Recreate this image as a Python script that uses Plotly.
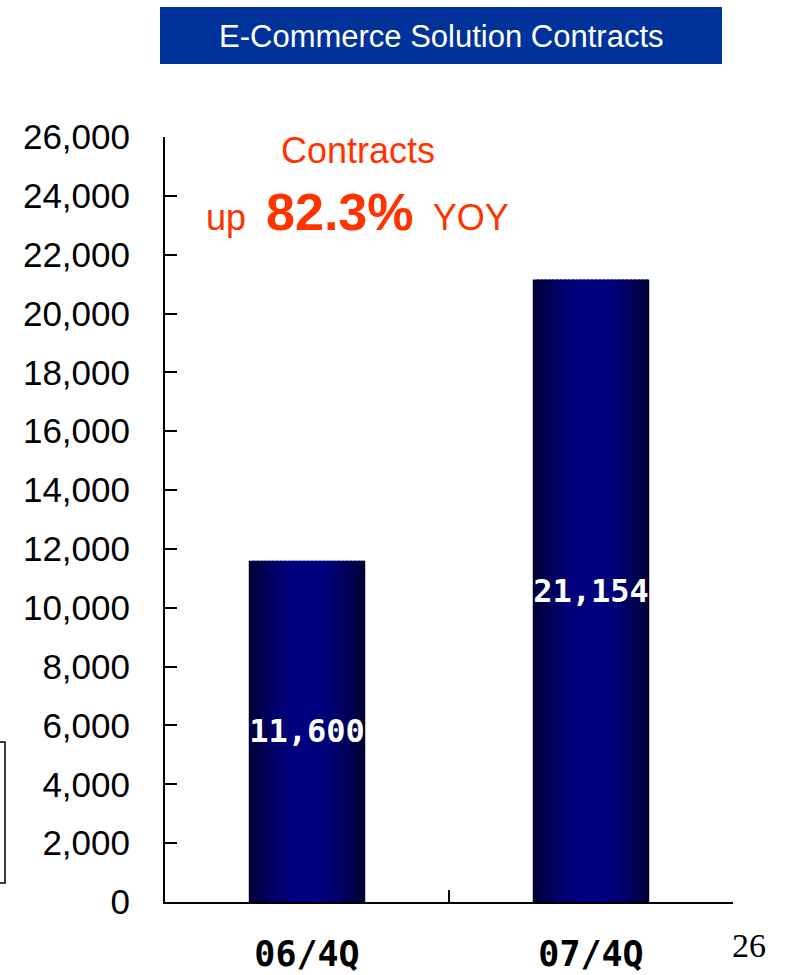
import math
import plotly.graph_objects as go

# ---- data ----
categories = ["06/4Q", "07/4Q"]
contracts = [11600, 21154]
y_ticks = list(range(0, 26001, 2000))
title_text = "E-Commerce Solution Contracts"
growth_label = "82.3%"
page_no = "26"

# ---- style / layout (pixel targets) ----
W, H = 789, 975
PLOT_X0, PLOT_X1 = 165, 733
PLOT_Y0, PLOT_Y1 = 137, 902  # top, bottom in page pixels
L = PLOT_X0
T = PLOT_Y0
PW = PLOT_X1 - PLOT_X0
PH = PLOT_Y1 - PLOT_Y0
R = W - L - PW
B = H - T - PH
bar_w = 0.41
N = 30

def px2paper_x(px):
    return (px - PLOT_X0) / PW

def px2paper_y(py):
    return (PLOT_Y1 - py) / PH

def grad_color(t):
    s = math.sin(math.pi * t) ** 0.8
    b = int(45 + (130 - 45) * s)
    return f"rgb(0,0,{b})"

fig = go.Figure()
dw = bar_w / N
for i in range(N):
    t = (i + 0.5) / N
    wi = dw * (1.6 if i < N - 1 else 1.0)
    fig.add_trace(go.Bar(
        x=categories, y=contracts,
        width=[wi] * len(categories),
        offset=[-bar_w / 2 + i * dw] * len(categories),
        marker=dict(color=grad_color(t), line=dict(width=0)),
        hoverinfo="skip", showlegend=False,
    ))

fig.add_trace(go.Bar(
    x=categories, y=contracts,
    width=[bar_w] * len(categories),
    marker=dict(color="rgba(0,0,0,0)", line=dict(width=0)),
    text=[f"{v:,}" for v in contracts],
    textposition="inside", insidetextanchor="middle",
    constraintext="none", textangle=0,
    textfont=dict(family="DejaVu Sans Mono", size=32, color="white", weight="bold"),
    hoverinfo="skip", showlegend=False,
))

fig.update_layout(
    width=W, height=H,
    margin=dict(l=L, r=R, t=T, b=B, autoexpand=False),
    paper_bgcolor="white", plot_bgcolor="white",
    barmode="overlay",
    showlegend=False,
    hovermode=False,
    xaxis=dict(
        type="category", range=[-0.5, 1.5], automargin=False,
        showline=True, linecolor="black", linewidth=2,
        showgrid=False, zeroline=False,
        ticks="inside", tickson="boundaries", ticklen=12, tickwidth=2, tickcolor="black",
        tickfont=dict(family="DejaVu Sans Mono", size=35, color="black", weight="bold"),
        ticklabelstandoff=20,
    ),
    yaxis=dict(
        range=[0, 26000], automargin=False,
        tickvals=y_ticks, tickformat=",",
        showline=True, linecolor="black", linewidth=2,
        showgrid=False, zeroline=False,
        ticks="inside", ticklen=12, tickwidth=2, tickcolor="black",
        tickfont=dict(family="Liberation Sans, Arial", size=35, color="black"),
        ticklabelstandoff=26,
    ),
    shapes=[
        dict(type="rect", xref="paper", yref="paper",
             x0=px2paper_x(160), x1=px2paper_x(722),
             y0=px2paper_y(64), y1=px2paper_y(7),
             fillcolor="#003399", line=dict(width=0), layer="below"),
        dict(type="rect", xref="paper", yref="paper",
             x0=px2paper_x(-20), x1=px2paper_x(5),
             y0=px2paper_y(883), y1=px2paper_y(742),
             fillcolor="rgba(0,0,0,0)", line=dict(color="black", width=1.5)),
    ],
    annotations=[
        dict(text=title_text, xref="paper", yref="paper",
             x=px2paper_x(441), y=px2paper_y(36), showarrow=False,
             xanchor="center", yanchor="middle",
             font=dict(family="Liberation Sans, Arial", size=31, color="white")),
        dict(text="Contracts", xref="paper", yref="paper",
             x=px2paper_x(358), y=px2paper_y(150), showarrow=False,
             xanchor="center", yanchor="middle",
             font=dict(family="Liberation Sans, Arial", size=36, color="#FF3300")),
        dict(text=f"up  <b><span style='font-size:52px'>{growth_label}</span></b>  YOY",
             xref="paper", yref="paper",
             x=px2paper_x(357), y=px2paper_y(212), showarrow=False,
             xanchor="center", yanchor="middle",
             font=dict(family="Liberation Sans, Arial", size=36, color="#FF3300")),
        dict(text=page_no, xref="paper", yref="paper",
             x=px2paper_x(749), y=px2paper_y(945), showarrow=False,
             xanchor="center", yanchor="middle",
             font=dict(family="Liberation Serif, Times New Roman", size=34, color="black")),
    ],
)

fig.write_html("out.html", config={"displayModeBar": False},
               post_script="document.body.style.margin='0px';")
